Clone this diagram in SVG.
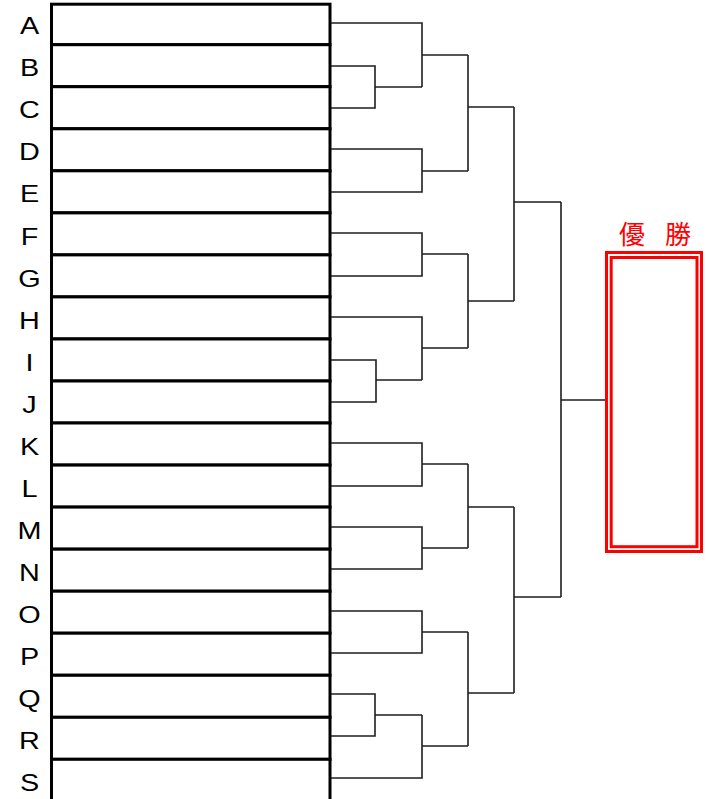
<svg xmlns="http://www.w3.org/2000/svg" width="706" height="799" viewBox="0 0 706 799">
<style>
.row{fill:#fff;stroke:#000;stroke-width:3}
.lbl{font-family:"Liberation Sans",Arial,sans-serif;font-size:24px;fill:#000;text-anchor:middle}
.con{fill:none;stroke:#1e1e1e;stroke-width:1.6}
.win{fill:none;stroke:#ff0000;stroke-width:3}
.ttl{font-family:"Noto Sans CJK JP","Noto Sans CJK SC",sans-serif;font-size:26px;fill:#ff0000}
</style>
<rect width="706" height="799" fill="#fff"/>
<g id="entries">
<g id="n-A"><rect class="row" x="51.5" y="4.2" width="278.5" height="40.5"/><text class="lbl" transform="translate(29.5 34.3) scale(1.2 1)">A</text></g>
<g id="n-B"><rect class="row" x="51.5" y="44.7" width="278.5" height="42"/><text class="lbl" transform="translate(29.5 76.3) scale(1.2 1)">B</text></g>
<g id="n-C"><rect class="row" x="51.5" y="86.7" width="278.5" height="42"/><text class="lbl" transform="translate(29.5 118.3) scale(1.2 1)">C</text></g>
<g id="n-D"><rect class="row" x="51.5" y="128.8" width="278.5" height="42"/><text class="lbl" transform="translate(29.5 160.4) scale(1.2 1)">D</text></g>
<g id="n-E"><rect class="row" x="51.5" y="170.8" width="278.5" height="42"/><text class="lbl" transform="translate(29.5 202.4) scale(1.2 1)">E</text></g>
<g id="n-F"><rect class="row" x="51.5" y="212.9" width="278.5" height="42"/><text class="lbl" transform="translate(29.5 244.5) scale(1.2 1)">F</text></g>
<g id="n-G"><rect class="row" x="51.5" y="254.9" width="278.5" height="42"/><text class="lbl" transform="translate(29.5 286.5) scale(1.2 1)">G</text></g>
<g id="n-H"><rect class="row" x="51.5" y="296.9" width="278.5" height="42"/><text class="lbl" transform="translate(29.5 328.5) scale(1.2 1)">H</text></g>
<g id="n-I"><rect class="row" x="51.5" y="339" width="278.5" height="42"/><text class="lbl" transform="translate(29.5 370.6) scale(1.2 1)">I</text></g>
<g id="n-J"><rect class="row" x="51.5" y="381" width="278.5" height="42"/><text class="lbl" transform="translate(29.5 412.6) scale(1.2 1)">J</text></g>
<g id="n-K"><rect class="row" x="51.5" y="423" width="278.5" height="42"/><text class="lbl" transform="translate(29.5 454.6) scale(1.2 1)">K</text></g>
<g id="n-L"><rect class="row" x="51.5" y="465.1" width="278.5" height="42"/><text class="lbl" transform="translate(29.5 496.7) scale(1.2 1)">L</text></g>
<g id="n-M"><rect class="row" x="51.5" y="507.1" width="278.5" height="42"/><text class="lbl" transform="translate(29.5 538.7) scale(1.2 1)">M</text></g>
<g id="n-N"><rect class="row" x="51.5" y="549.2" width="278.5" height="42"/><text class="lbl" transform="translate(29.5 580.8) scale(1.2 1)">N</text></g>
<g id="n-O"><rect class="row" x="51.5" y="591.2" width="278.5" height="42"/><text class="lbl" transform="translate(29.5 622.8) scale(1.2 1)">O</text></g>
<g id="n-P"><rect class="row" x="51.5" y="633.2" width="278.5" height="42"/><text class="lbl" transform="translate(29.5 664.8) scale(1.2 1)">P</text></g>
<g id="n-Q"><rect class="row" x="51.5" y="675.3" width="278.5" height="42"/><text class="lbl" transform="translate(29.5 706.9) scale(1.2 1)">Q</text></g>
<g id="n-R"><rect class="row" x="51.5" y="717.3" width="278.5" height="42"/><text class="lbl" transform="translate(29.5 748.9) scale(1.2 1)">R</text></g>
<g id="n-S"><rect class="row" x="51.5" y="759.3" width="278.5" height="48"/><text class="lbl" transform="translate(29.5 790.9) scale(1.2 1)">S</text></g>
</g>
<g id="connectors" class="con">
<path d="M331 66 H375 V108 H331 M375 87 H422"/>
<path d="M331 23 H422 V87 M422 55 H468"/>
<path d="M331 149 H422 V192 H331 M422 171 H468"/>
<path d="M468 55 V171 M468 107 H514"/>
<path d="M331 233 H422 V276 H331 M422 254 H468"/>
<path d="M331 360 H376 V402 H331 M376 380 H422"/>
<path d="M331 317 H422 V380 M422 348 H468"/>
<path d="M468 254 V348 M468 301 H514"/>
<path d="M514 107 V301 M514 202 H561"/>
<path d="M331 443 H422 V486 H331 M422 464 H468"/>
<path d="M331 527 H422 V569 H331 M422 548 H468"/>
<path d="M468 464 V548 M468 507 H514"/>
<path d="M331 611 H422 V653 H331 M422 632 H468"/>
<path d="M331 694 H375 V736 H331 M375 715 H422"/>
<path d="M331 778 H422 V715 M422 746 H468"/>
<path d="M468 632 V746 M468 693 H514"/>
<path d="M514 507 V693 M514 597 H561"/>
<path d="M561 202 V597 M561 400 H606"/>
</g>
<g id="winner">
<text class="ttl" x="619" y="244">優 <tspan x="665">勝</tspan></text>
<rect class="win" x="606.5" y="252.5" width="95" height="299"/>
<rect class="win" x="611.2" y="257.5" width="85.8" height="289.2"/>
</g>
</svg>
